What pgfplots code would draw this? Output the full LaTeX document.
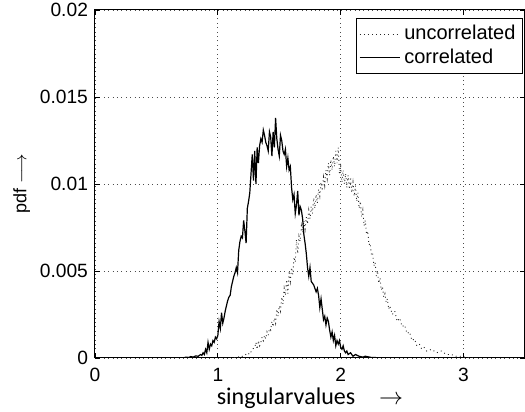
\documentclass[border=0pt]{standalone}
\usepackage{fontspec}
\setmainfont{Liberation Sans}
\newfontfamily\carlito{Carlito}
\usepackage{pgfplots}
\pgfplotsset{compat=1.18}
\begin{document}
\begin{tikzpicture}
\begin{axis}[
  scale only axis, width=215pt, height=174pt,
  xmin=0, xmax=3.5, ymin=0, ymax=0.02,
  xtick={0,1,2,3}, xticklabels={0,1,2,3},
  ytick={0,0.005,0.01,0.015,0.02}, yticklabels={0,0.005,0.01,0.015,0.02},
  ticklabel style={font=\fontsize{9.6}{11}\selectfont},
  xticklabel style={yshift=-1.5pt},
  major tick length=2.5pt,
  tick style={black, line width=0.4pt},
  grid=major, grid style={dash pattern=on 0.4pt off 1.8pt, black!70, line width=0.4pt},
  axis line style={line width=0.5pt},
  xlabel={{\carlito singularvalues}\quad$\rightarrow$},
  xlabel style={font=\fontsize{12}{14}\selectfont, yshift=4pt},
  ylabel={pdf $\longrightarrow$},
  ylabel style={font=\fontsize{9}{11}\selectfont, yshift=-2pt},
  legend style={at={(1,1)}, anchor=north east, xshift=-1pt, yshift=-4pt,
    font=\fontsize{10}{12}\selectfont, draw=black, line width=0.5pt,
    inner sep=1.5pt, row sep=-1pt},
  legend cell align=left,
  legend image code/.code={\draw[#1] (0pt,0pt) -- (20pt,0pt);},
]
\addplot[black!85, dash pattern=on 0.45pt off 1.6pt, line width=0.45pt] coordinates {
(1.10,0) (1.14,0.00002) (1.16,0.00008) (1.18,0.00003) (1.20,0.0001) (1.22,0.00015)
(1.24,0.0003) (1.26,0.0002) (1.28,0.0005) (1.30,0.0006) (1.31,0.0009) (1.32,0.0005)
(1.33,0.0010) (1.34,0.0007) (1.35,0.0009) (1.36,0.0012) (1.37,0.0010) (1.38,0.0013)
(1.39,0.0011) (1.40,0.0015) (1.41,0.0013) (1.42,0.0017) (1.43,0.0016) (1.44,0.0021)
(1.45,0.0018) (1.46,0.0023) (1.47,0.0020) (1.48,0.0028) (1.49,0.0024) (1.50,0.0030)
(1.51,0.0027) (1.52,0.0035) (1.53,0.0031) (1.54,0.0040) (1.55,0.0036) (1.56,0.0045)
(1.57,0.0037) (1.58,0.0050) (1.59,0.0044) (1.60,0.0052) (1.61,0.0048) (1.62,0.0058)
(1.63,0.0055) (1.64,0.0068) (1.65,0.0060) (1.66,0.0070) (1.67,0.0067) (1.68,0.0076)
(1.69,0.0072) (1.70,0.0079) (1.71,0.0074) (1.72,0.0081) (1.73,0.0077) (1.74,0.0085)
(1.75,0.0080) (1.76,0.0087) (1.77,0.0083) (1.78,0.0092) (1.79,0.0086) (1.80,0.0094)
(1.81,0.0089) (1.82,0.0097) (1.83,0.0093) (1.84,0.0101) (1.85,0.0096) (1.86,0.0104)
(1.87,0.0099) (1.88,0.0108) (1.89,0.0103) (1.90,0.0112) (1.91,0.0105) (1.92,0.0114)
(1.93,0.0108) (1.94,0.0116) (1.95,0.0110) (1.96,0.0119) (1.97,0.0112) (1.98,0.0121)
(1.99,0.0106) (2.00,0.0110) (2.01,0.0101) (2.02,0.0108) (2.03,0.0100) (2.04,0.0106)
(2.05,0.0098) (2.06,0.0105) (2.07,0.0097) (2.08,0.0104) (2.09,0.0095) (2.10,0.0101)
(2.11,0.0093) (2.12,0.0099) (2.13,0.0090) (2.14,0.0095) (2.15,0.0086) (2.16,0.0090)
(2.17,0.0081) (2.18,0.0085) (2.19,0.0076) (2.20,0.0079) (2.21,0.0071) (2.22,0.0073)
(2.23,0.0065) (2.24,0.0066) (2.25,0.0059) (2.26,0.0060) (2.27,0.0053) (2.28,0.0055)
(2.29,0.0047) (2.30,0.0050) (2.31,0.0043) (2.32,0.0046) (2.33,0.0039) (2.34,0.0041)
(2.35,0.0035) (2.36,0.0037) (2.37,0.0032) (2.38,0.0034) (2.39,0.0028) (2.40,0.0030)
(2.42,0.0025) (2.44,0.0027) (2.46,0.0021) (2.48,0.0023) (2.50,0.0018) (2.52,0.0019)
(2.54,0.0014) (2.56,0.0015) (2.58,0.0010) (2.60,0.0011) (2.62,0.0007) (2.64,0.0008)
(2.66,0.0005) (2.68,0.0006) (2.70,0.0004) (2.74,0.0005) (2.78,0.0003) (2.82,0.0004)
(2.86,0.0002) (2.90,0.0002) (2.94,0.0001) (2.98,0.0001) (3.02,0.00003) (3.06,0.00002)
(3.10,0)
};
\addlegendentry{uncorrelated}
\addplot[black, line width=0.6pt] coordinates {
(0.60,0) (0.65,0) (0.70,0.00002) (0.72,0) (0.74,0.00005) (0.76,0.00003) (0.78,0.00008)
(0.80,0.00005) (0.82,0.00012) (0.84,0.0001) (0.86,0.0002) (0.87,0.00015) (0.88,0.0003)
(0.89,0.0002) (0.90,0.0005) (0.91,0.0003) (0.92,0.0009) (0.93,0.0005) (0.94,0.0008)
(0.95,0.0007) (0.96,0.0010) (0.97,0.0009) (0.98,0.0012) (0.99,0.0011) (1.00,0.0013)
(1.01,0.0021) (1.02,0.0017) (1.03,0.0026) (1.04,0.0020) (1.05,0.0023) (1.06,0.0027)
(1.07,0.0030) (1.08,0.0033) (1.09,0.0035) (1.10,0.0036) (1.11,0.0041) (1.12,0.0044)
(1.13,0.0047) (1.14,0.0049) (1.15,0.0052) (1.16,0.0049) (1.17,0.0062) (1.18,0.0067)
(1.19,0.0070) (1.20,0.0069) (1.21,0.0079) (1.22,0.0073) (1.23,0.0066) (1.24,0.0086)
(1.25,0.0090) (1.26,0.0095) (1.27,0.0106) (1.28,0.0117) (1.29,0.0102) (1.30,0.0119)
(1.31,0.0100) (1.32,0.0121) (1.33,0.0112) (1.34,0.0122) (1.35,0.0126) (1.36,0.0124)
(1.37,0.0131) (1.38,0.0128) (1.39,0.0124) (1.40,0.0122) (1.41,0.0119) (1.42,0.0130)
(1.43,0.0127) (1.44,0.0116) (1.45,0.0130) (1.46,0.0121) (1.47,0.0138) (1.48,0.0126)
(1.49,0.0120) (1.50,0.0116) (1.51,0.0128) (1.52,0.0125) (1.53,0.0119) (1.54,0.0117)
(1.55,0.0120) (1.56,0.0110) (1.57,0.0115) (1.58,0.0108) (1.59,0.0110) (1.60,0.0098)
(1.61,0.0091) (1.62,0.0094) (1.63,0.0083) (1.64,0.0088) (1.65,0.0096) (1.66,0.0082)
(1.67,0.0087) (1.68,0.0085) (1.69,0.0080) (1.70,0.0071) (1.71,0.0066) (1.72,0.0060)
(1.73,0.0052) (1.74,0.0047) (1.75,0.0052) (1.76,0.0044) (1.77,0.0043) (1.78,0.0042)
(1.79,0.0040) (1.80,0.0038) (1.81,0.0040) (1.82,0.0036) (1.83,0.0029) (1.84,0.0034)
(1.85,0.0028) (1.86,0.0022) (1.87,0.0024) (1.88,0.0019) (1.89,0.0023) (1.90,0.0021)
(1.91,0.0016) (1.92,0.0012) (1.93,0.0015) (1.94,0.0010) (1.95,0.0013) (1.96,0.0007)
(1.97,0.0010) (1.98,0.0008) (1.99,0.0010) (2.00,0.0006) (2.01,0.0005) (2.02,0.0007)
(2.03,0.0004) (2.04,0.0003) (2.05,0.0004) (2.06,0.0002) (2.08,0.0003) (2.10,0.0001)
(2.12,0.0002) (2.15,0.0001) (2.18,0.00005) (2.20,0.0001) (2.25,0.00003) (2.30,0.00002)
(2.35,0) (2.40,0)
};
\addlegendentry{correlated}
\end{axis}
\pgfresetboundingbox
\path (-47.5pt,-27pt) rectangle (215pt,179pt);
\end{tikzpicture}
\end{document}
